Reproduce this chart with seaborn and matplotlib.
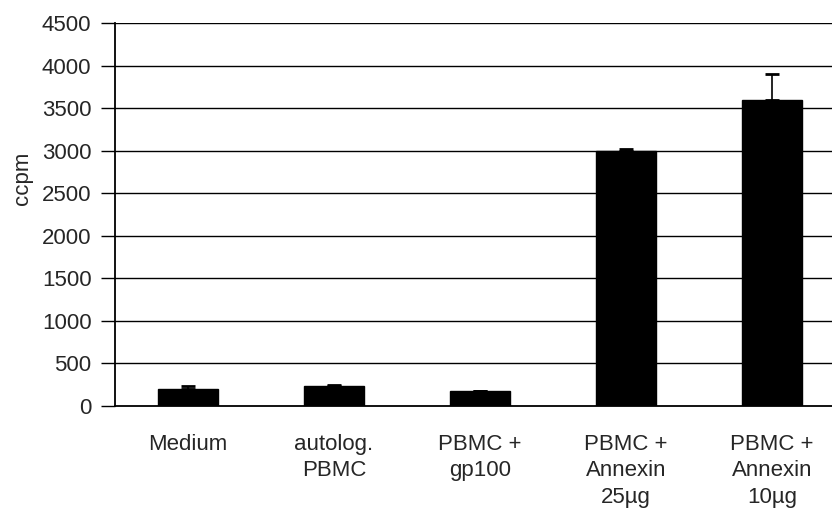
import matplotlib
matplotlib.use("Agg")
import matplotlib.pyplot as plt
import seaborn as sns
import pandas as pd
import numpy as np

categories = ["Medium", "autolog.\nPBMC", "PBMC +\ngp100", "PBMC +\nAnnexin\n25µg", "PBMC +\nAnnexin\n10µg"]
values = [200, 235, 175, 3000, 3590]
errors = [40, 10, 5, 20, 310]
yticks = [0, 500, 1000, 1500, 2000, 2500, 3000, 3500, 4000, 4500]

sns.set_style("white")
plt.rcParams['font.family'] = ['Liberation Sans', 'DejaVu Sans']

fig = plt.figure(figsize=(8.32, 5.12), dpi=100)
ax = fig.add_axes([115/832, 1 - 406/512, (832-115)/832, (406-23)/512])

df = pd.DataFrame({"cat": categories, "val": values})
sns.barplot(data=df, x="cat", y="val", color="black", width=0.41, ax=ax,
            errorbar=None, zorder=3, edgecolor="black")
x = np.arange(len(categories))
ax.errorbar(x, values, yerr=[np.zeros(len(errors)), errors], fmt="none",
            ecolor="black", elinewidth=1.2, capsize=5, capthick=2, zorder=4)

ax.set_ylim(0, 4500)
ax.set_yticks(yticks)
ax.set_yticklabels([str(t) for t in yticks], fontsize=16)
ax.set_xlim(-0.5, 4.41)
for t in yticks[1:]:
    ax.axhline(t, color="black", lw=1, zorder=1)

ax.set_xticks(x)
ax.set_xticklabels(categories, fontsize=16, linespacing=1.35, va="top")
ax.tick_params(axis="x", which="major", length=0, pad=20)
ax.set_xticks(np.arange(0.5, 4.5, 1), minor=True)
ax.tick_params(axis="x", which="minor", length=7, width=1, direction="out", color="black")
ax.tick_params(axis="y", length=10, width=1, direction="out", color="black", left=True, pad=7)

for s in ["top", "right"]:
    ax.spines[s].set_visible(False)
for s in ["left", "bottom"]:
    ax.spines[s].set_color("black")
    ax.spines[s].set_linewidth(1.3)

ax.set_xlabel("")
ax.set_ylabel("ccpm", fontsize=16)
ax.yaxis.set_label_coords(-82/717, 0.595)

fig.savefig("out.png", dpi=100)
